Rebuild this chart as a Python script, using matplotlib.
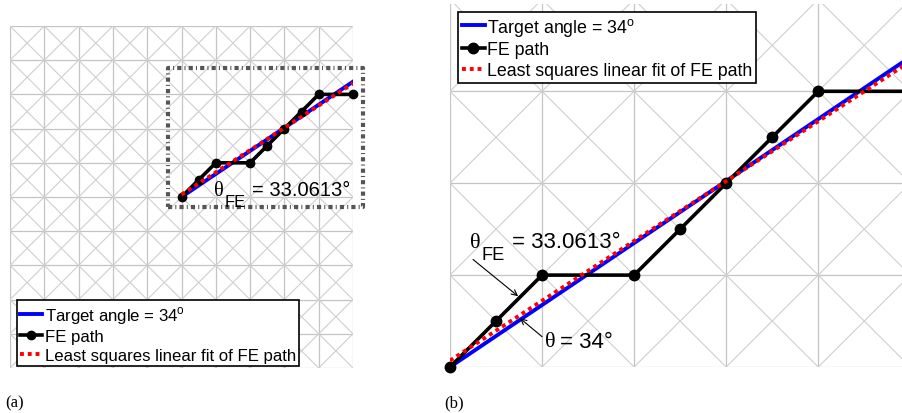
import numpy as np
import matplotlib
matplotlib.use('Agg')
import matplotlib.pyplot as plt

plt.rcParams['font.family'] = ['Liberation Sans', 'DejaVu Sans']

# mesh and path data
n_elem = 10
fe_x = [5, 5.5, 6, 7, 7.5, 8, 8.5, 9, 10]
fe_y = [5, 5.5, 6, 6, 6.5, 7, 7.5, 8, 8]
target_angle = 34
fit_angle = 33.0613
fit_y0 = 5.07
line_x = [5, 10]
zoom_box_x = [4.61, 10.29]
zoom_box_y = [4.71, 8.77]
labels = ['Target angle = 34$^{\\mathregular{o}}$', 'FE path', 'Least squares linear fit of FE path']

grid_col = '#c4c4c4'
diag_col = '#cfcfcf'
W, H = 902, 414


def draw_mesh(ax):
    for i in range(n_elem + 1):
        ax.plot([i, i], [0, n_elem], color=grid_col, lw=0.9, zorder=1)
        ax.plot([0, n_elem], [i, i], color=grid_col, lw=0.9, zorder=1)
    for i in range(n_elem):
        for j in range(n_elem):
            ax.plot([i, i + 1], [j, j + 1], color=diag_col, lw=0.8, zorder=1)
            ax.plot([i, i + 1], [j + 1, j], color=diag_col, lw=0.8, zorder=1)


def draw_paths(ax, ms):
    lx = np.array(line_x, dtype=float)
    ty = fe_y[0] + (lx - lx[0]) * np.tan(np.radians(target_angle))
    fy = fit_y0 + (lx - lx[0]) * np.tan(np.radians(fit_angle))
    h1, = ax.plot(lx, ty, color='#0000ff', lw=2.8, zorder=3)
    h2, = ax.plot(fe_x, fe_y, color='black', lw=2.6, marker='o', ms=ms, zorder=4, clip_on=False)
    h3, = ax.plot(lx, fy, color='#ff0000', lw=2.8, ls=(0, (1, 1.0)), zorder=5)
    return [h1, h2, h3]


def put(xp, yp, s, size, **kw):
    # text placed by pixel position (from top-left)
    fig.text(xp / W, 1 - yp / H, s, fontsize=size, va='center', ha='left', zorder=8, **kw)


def theta_label(x0, yc, size, value):
    put(x0, yc, 'θ', size, family='Liberation Serif')
    put(x0 + size * 0.72, yc + size * 0.78, 'FE', size * 0.82)
    put(x0 + size * 2.6, yc, '= ' + value, size)


def make_legend(ax, loc, anchor, size):
    leg = ax.legend(hs, labels, loc=loc, bbox_to_anchor=anchor,
                    fontsize=size, handlelength=1.3, handletextpad=0.15, borderpad=0.2,
                    labelspacing=0.22, borderaxespad=0, fancybox=False, framealpha=1)
    leg.get_frame().set_edgecolor('black')
    leg.get_frame().set_linewidth(1.2)


fig = plt.figure(figsize=(W / 100, H / 100), dpi=100)

# (a) full mesh
ax1 = fig.add_axes([10 / W, 45 / H, 343 / W, 342 / H])
draw_mesh(ax1)
hs = draw_paths(ax1, 6)
ax1.plot([zoom_box_x[0], zoom_box_x[1], zoom_box_x[1], zoom_box_x[0], zoom_box_x[0]],
         [zoom_box_y[0], zoom_box_y[0], zoom_box_y[1], zoom_box_y[1], zoom_box_y[0]],
         color='#555555', lw=3.0, ls=(0, (1, 0.75, 0.25, 0.75)), zorder=6, clip_on=False)
ax1.set_xlim(0, n_elem)
ax1.set_ylim(0, n_elem)
ax1.axis('off')
make_legend(ax1, 'lower left', (0.02, 0.005), 12.1)
theta_label(214, 191, 14.5, '33.0613°')

# (b) zoomed region
ax2 = fig.add_axes([450 / W, 46 / H, 452 / W, 363 / H])
draw_mesh(ax2)
hs = draw_paths(ax2, 7.5)
ax2.set_xlim(5, 9.91)
ax2.set_ylim(5, 8.95)
ax2.axis('off')
ax2.annotate('', xy=(5.74, 5.77), xytext=(5.25, 6.17),
             arrowprops=dict(arrowstyle='->', lw=0.8, color='black', shrinkA=0, shrinkB=0))
ax2.annotate('', xy=(5.76, 5.53), xytext=(6.0, 5.33),
             arrowprops=dict(arrowstyle='->', lw=0.8, color='black', shrinkA=0, shrinkB=0))
make_legend(ax2, 'upper left', (0.018, 0.978), 12.8)
theta_label(470, 243, 16, '33.0613°')
put(545, 343, 'θ', 16, family='Liberation Serif')
put(560, 343, '= 34°', 16)

fig.text(5 / W, 1 - 403 / H, '(a)', family='Liberation Serif', fontsize=12, va='center', ha='left')
fig.text(444 / W, 1 - 403 / H, '(b)', family='Liberation Serif', fontsize=12, va='center', ha='left')

fig.savefig('out.png', dpi=100)
